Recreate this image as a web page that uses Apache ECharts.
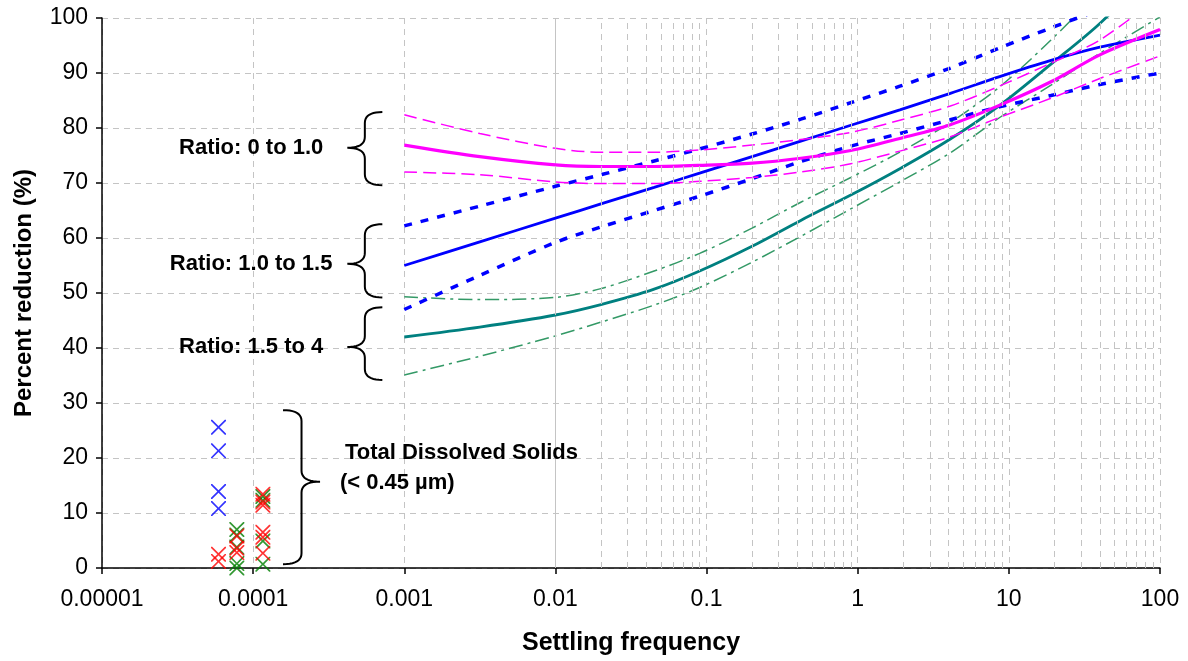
<!DOCTYPE html>
<html><head><meta charset="utf-8">
<script src="https://cdn.jsdelivr.net/npm/echarts@6/dist/echarts.min.js"></script>
<style>html,body{margin:0;padding:0;background:#fff}#c{width:1188px;height:661px}</style>
</head><body><div id="c"></div>
<script>
// ---------------- DATA ----------------
const xTickLabels = ['0.00001', '0.0001', '0.001', '0.01', '0.1', '1', '10', '100'];
const yTickLabels = ['0', '10', '20', '30', '40', '50', '60', '70', '80', '90', '100'];

// settling frequency sample points for the fitted curves
const freq = [0.001, 0.00316, 0.01, 0.02, 0.045, 0.09, 0.2, 0.42, 0.9, 1.9, 4.1, 8.8, 19, 40, 100];

// Ratio 0 to 1.0 (magenta)
const r01Mean  = [76.9, 74.8, 73.3, 73.0, 73.0, 73.2, 73.6, 74.5, 75.9, 78.1, 80.6, 84.2, 88.4, 93.3, 97.9];
const r01Upper = [82.4, 79.0, 76.3, 75.6, 75.6, 76.0, 76.9, 77.9, 79.2, 81.4, 84.0, 87.7, 91.8, 96.0, 104.0];
const r01Lower = [72.0, 71.5, 70.2, 69.9, 69.9, 70.3, 71.0, 72.0, 73.5, 75.8, 78.4, 82.0, 85.4, 89.0, 93.1];

// Ratio 1.0 to 1.5 (blue)
const r115Mean  = [55.0, 59.3, 63.6, 66.2, 69.2, 71.8, 74.8, 77.6, 80.5, 83.3, 86.3, 89.4, 92.3, 94.7, 96.9];
const r115Upper = [62.2, 65.8, 69.4, 71.5, 74.0, 76.2, 78.9, 81.6, 84.6, 87.6, 90.9, 94.6, 98.2, 101.5, 105.5];
const r115Lower = [47.0, 53.2, 59.2, 62.0, 65.0, 67.6, 70.8, 73.9, 76.7, 79.0, 81.5, 83.9, 85.9, 87.9, 90.0];

// Ratio 1.5 to 4 (teal)
const r154Mean  = [42.0, 43.8, 46.0, 47.9, 50.7, 54.0, 58.5, 63.2, 67.8, 72.6, 78.0, 84.2, 91.6, 99.0, 110.0];
const r154Upper = [49.3, 48.8, 49.2, 50.8, 54.0, 57.2, 61.8, 66.5, 71.0, 75.6, 81.0, 87.6, 96.0, 105.0, 117.0];
const r154Lower = [35.1, 38.5, 42.2, 44.7, 47.8, 51.0, 55.6, 60.3, 65.3, 70.2, 75.5, 82.0, 87.8, 93.6, 100.2];

// Total dissolved solids points
const tdsBlueX  = [5.9e-5, 5.9e-5, 5.9e-5, 5.9e-5];
const tdsBlueY  = [25.6, 21.3, 13.9, 10.8];
const tdsRedX   = [5.9e-5, 5.9e-5, 7.8e-5, 7.8e-5, 7.8e-5, 1.16e-4, 1.16e-4, 1.16e-4, 1.16e-4, 1.16e-4, 1.16e-4];
const tdsRedY   = [2.5, 1.2, 5.8, 3.6, 2.8, 13.4, 12.0, 11.4, 6.5, 5.6, 2.7];
const tdsGreenX = [7.8e-5, 7.8e-5, 7.8e-5, 7.8e-5, 7.8e-5, 1.16e-4, 1.16e-4, 1.16e-4, 1.16e-4];
const tdsGreenY = [7.0, 6.0, 3.8, 0.8, 0.0, 13.0, 12.3, 4.9, 0.7];

// annotation labels
const ratioLabels = ['Ratio: 0 to 1.0', 'Ratio: 1.0 to 1.5', 'Ratio: 1.5 to 4'];
const ratioLabelY = [76.4, 55.3, 40.2];
const ratioBraceTop = [82.9, 62.5, 47.4];
const ratioBraceBot = [69.6, 49.2, 34.2];
const tdsLabels = ['Total Dissolved Solids', '(< 0.45 µm)'];
const tdsLabelY = [21.0, 15.5];
const tdsBraceTip = 15.7, tdsBraceTop = 28.7, tdsBraceBot = 0.7;

// ---------------- CHART ----------------
const FONT = '"Liberation Sans", Arial, sans-serif';
const pair = (xs, ys) => xs.map((x, i) => [x, ys[i]]);
const xSym = 'path://M0,0L8,0L50,42L92,0L100,0L100,8L58,50L100,92L100,100L92,100L50,58L8,100L0,100L0,92L42,50L0,8Z';

const minorX = [];
for (let d = -5; d <= 1; d++) for (let k = 2; k <= 9; k++) minorX.push(k * Math.pow(10, d));

const chart = echarts.init(document.getElementById('c'), null, {renderer: 'canvas'});

function lineSeries(name, ys, color, width, type, z) {
  return {
    name, type: 'line', data: pair(freq, ys), smooth: 0.3,
    showSymbol: false, symbol: 'none',
    lineStyle: {color, width, type}, z: z || 3, clip: true, animation: false
  };
}
function scatterSeries(name, xs, ys, color) {
  return {
    name, type: 'scatter', data: pair(xs, ys), symbol: xSym, symbolSize: 15,
    itemStyle: {color}, z: 5, animation: false, clip: false
  };
}

const gridCol = '#c4c4c4';
chart.setOption({
  animation: false,
  backgroundColor: '#fff',
  grid: {left: 102, right: 28, top: 18, bottom: 93, containLabel: false},
  xAxis: {
    type: 'log', logBase: 10, min: 1e-5, max: 100,
    name: 'Settling frequency', nameLocation: 'middle', nameGap: 63,
    nameTextStyle: {fontFamily: FONT, fontWeight: 'bold', fontSize: 25, color: '#000'},
    axisLine: {lineStyle: {color: '#000', width: 1.5}},
    axisTick: {show: true, length: 6, inside: false, lineStyle: {color: '#000', width: 1.5}},
    axisLabel: {
      fontFamily: FONT, fontSize: 23, color: '#000', margin: 20,
      formatter: v => xTickLabels[Math.round(Math.log10(v)) + 5]
    },
    splitLine: {show: true, lineStyle: {color: gridCol, type: [6, 5], width: 1}}
  },
  yAxis: {
    type: 'value', min: 0, max: 100, interval: 10,
    name: 'Percent reduction (%)', nameLocation: 'middle', nameGap: 66,
    nameTextStyle: {fontFamily: FONT, fontWeight: 'bold', fontSize: 24, color: '#000'},
    axisLine: {show: true, lineStyle: {color: '#000', width: 1.5}},
    axisTick: {show: true, length: 6, inside: false, lineStyle: {color: '#000', width: 1.5}},
    axisLabel: {
      fontFamily: FONT, fontSize: 23, color: '#000', margin: 14,
      formatter: v => yTickLabels[Math.round(v / 10)]
    },
    splitLine: {show: true, lineStyle: {color: gridCol, type: [6, 5], width: 1}}
  },
  series: [
    {
      name: 'minor grid', type: 'line', data: [], z: 1, silent: true,
      markLine: {
        silent: true, symbol: 'none', animation: false,
        label: {show: false},
        lineStyle: {color: gridCol, type: [6, 5], width: 1},
        emphasis: {disabled: true},
        data: minorX.map(v => ({xAxis: v}))
      }
    },
    lineSeries('1.5-4 upper', r154Upper, '#339966', 1.5, [14, 5, 3, 5]),
    lineSeries('1.5-4 lower', r154Lower, '#339966', 1.5, [14, 5, 3, 5]),
    lineSeries('1.5-4', r154Mean, '#008080', 2.8),
    lineSeries('1.0-1.5 upper', r115Upper, '#0000FF', 3.5, [8, 9]),
    lineSeries('1.0-1.5 lower', r115Lower, '#0000FF', 3.5, [8, 9]),
    lineSeries('1.0-1.5', r115Mean, '#0000FF', 2.8),
    lineSeries('0-1 upper', r01Upper, '#FF00FF', 1.5, [13, 6]),
    lineSeries('0-1 lower', r01Lower, '#FF00FF', 1.5, [13, 6]),
    lineSeries('0-1', r01Mean, '#FF00FF', 3.2),
    scatterSeries('TDS blue', tdsBlueX, tdsBlueY, '#0000FF'),
    scatterSeries('TDS green', tdsGreenX, tdsGreenY, '#008000'),
    scatterSeries('TDS red', tdsRedX, tdsRedY, '#FF0000')
  ]
});

// ---------------- ANNOTATIONS ----------------
const px = (x, y) => chart.convertToPixel({xAxisIndex: 0, yAxisIndex: 0}, [x, y]);

function quad(p0, c, p1, n, out) {
  for (let i = 1; i <= n; i++) {
    const t = i / n, a = (1 - t) * (1 - t), b = 2 * (1 - t) * t, d = t * t;
    out.push([a * p0[0] + b * c[0] + d * p1[0], a * p0[1] + b * c[1] + d * p1[1]]);
  }
}
// dir = 1: tip on the left, opens right ("{"); dir = -1: tip on the right ("}")
function bracePoints(tipX, tipY, topY, botY, w, dir) {
  const ex = tipX + dir * w, sx = tipX + dir * w * 0.5, r = 11;
  const pts = [[ex, topY]];
  quad([ex, topY], [sx, topY], [sx, topY + r], 10, pts);
  pts.push([sx, tipY - r]);
  quad([sx, tipY - r], [sx, tipY], [tipX, tipY], 10, pts);
  quad([tipX, tipY], [sx, tipY], [sx, tipY + r], 10, pts);
  pts.push([sx, botY - r]);
  quad([sx, botY - r], [sx, botY], [ex, botY], 10, pts);
  return pts;
}

function drawAnnotations() {
  const g = [];
  const braceX = 4.2e-4, labelX = 0.97e-4;
  ratioLabels.forEach((txt, i) => {
    const tip = px(braceX, ratioLabelY[i]);
    const top = px(braceX, ratioBraceTop[i]);
    const bot = px(braceX, ratioBraceBot[i]);
    g.push({type: 'polyline', z: 10, silent: true,
      shape: {points: bracePoints(tip[0], tip[1], top[1], bot[1], 35, 1)},
      style: {stroke: '#000', lineWidth: 2, fill: null}});
    const lp = px(labelX, ratioLabelY[i]);
    g.push({type: 'text', z: 10, silent: true, x: lp[0], y: lp[1],
      style: {text: txt, font: 'bold 22px ' + FONT, fill: '#000', align: 'center', verticalAlign: 'middle'}});
  });
  const tTip = px(2.77e-4, tdsBraceTip), tTop = px(2.77e-4, tdsBraceTop), tBot = px(2.77e-4, tdsBraceBot);
  g.push({type: 'polyline', z: 10, silent: true,
    shape: {points: bracePoints(tTip[0], tTip[1], tTop[1], tBot[1], 37, -1)},
    style: {stroke: '#000', lineWidth: 2, fill: null}});
  tdsLabels.forEach((txt, i) => {
    const lp = px(i === 0 ? 4.05e-4 : 3.75e-4, tdsLabelY[i]);
    g.push({type: 'text', z: 10, silent: true, x: lp[0], y: lp[1],
      style: {text: txt, font: 'bold 22px ' + FONT, fill: '#000', align: 'left', verticalAlign: 'middle'}});
  });
  chart.setOption({graphic: g});
}
drawAnnotations();
</script>
</body></html>
